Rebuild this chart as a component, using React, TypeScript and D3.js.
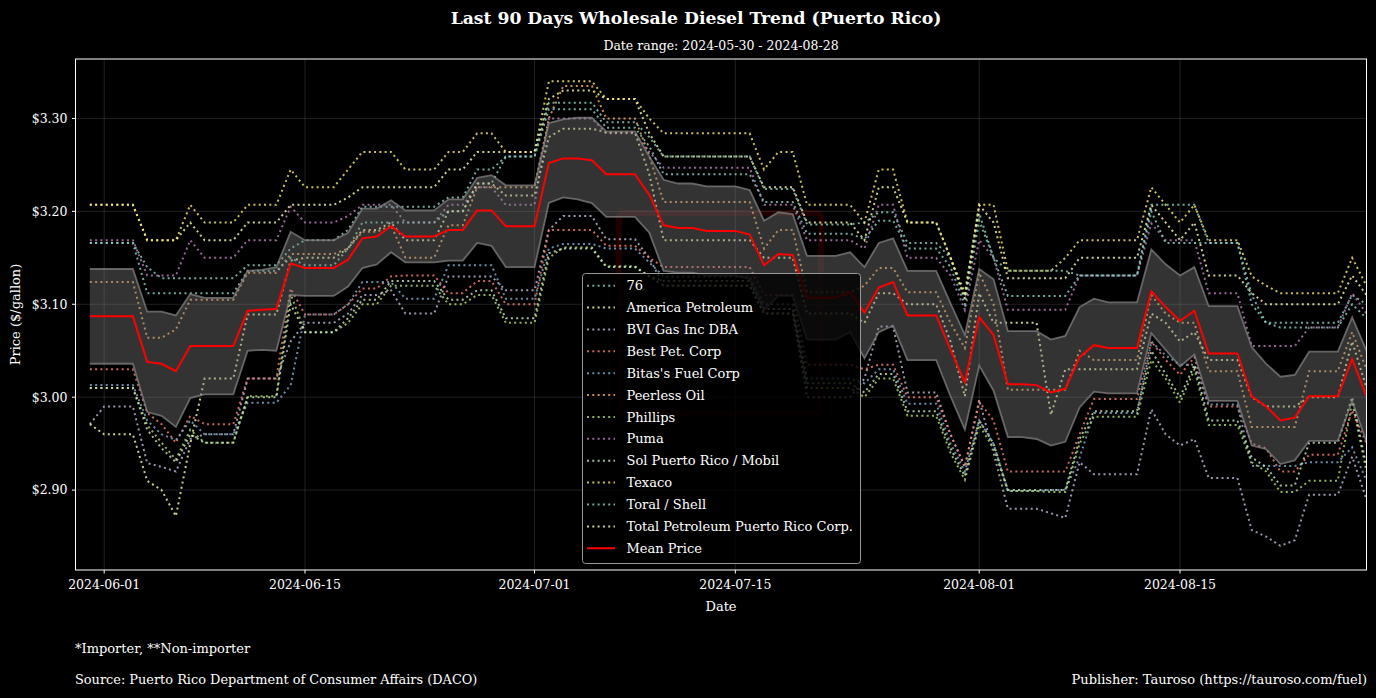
import React from "react";
import * as d3 from "d3";

const W = 1376;
const H = 698;

const nDays = 90;
const dates: Date[] = d3.range(nDays).map((i) => new Date(Date.UTC(2024, 4, 31 + i)));

const seriesNames = [
  "76",
  "America Petroleum",
  "BVI Gas Inc DBA",
  "Best Pet. Corp",
  "Bitas's Fuel Corp",
  "Peerless Oil",
  "Phillips",
  "Puma",
  "Sol Puerto Rico / Mobil",
  "Texaco",
  "Toral / Shell",
  "Total Petroleum Puerto Rico Corp.",
];

const seriesColors = [
  "#8dd3c7", "#feffb3", "#bfbbd9", "#fa8174", "#81b1d2", "#fdb462",
  "#b3de69", "#bc82bd", "#ccebc4", "#ffed6f", "#8dd3c7", "#feffb3",
];

const s76 = [
  3.166,3.166,3.166,3.166,3.140,3.128,3.128,3.128,3.128,3.128,
  3.128,3.142,3.142,3.142,3.160,3.169,3.169,3.169,3.180,3.205,
  3.205,3.205,3.205,3.205,3.205,3.215,3.215,3.245,3.245,3.259,
  3.259,3.259,3.317,3.317,3.317,3.317,3.296,3.296,3.296,3.280,
  3.259,3.259,3.259,3.259,3.259,3.259,3.259,3.224,3.224,3.224,
  3.186,3.186,3.186,3.186,3.188,3.199,3.199,3.166,3.166,3.166,
  3.150,3.106,3.198,3.150,3.136,3.136,3.136,3.136,3.136,3.131,
  3.131,3.131,3.131,3.131,3.207,3.207,3.207,3.207,3.166,3.166,
  3.166,3.110,3.080,3.080,3.080,3.080,3.080,3.080,3.110,3.100,
];
const americaPetroleum = [
  3.207,3.207,3.207,3.207,3.169,3.169,3.169,3.188,3.169,3.169,
  3.169,3.188,3.188,3.188,3.207,3.207,3.207,3.207,3.215,3.226,
  3.226,3.226,3.226,3.226,3.226,3.245,3.245,3.264,3.264,3.264,
  3.264,3.264,3.321,3.330,3.330,3.330,3.321,3.321,3.321,3.284,
  3.259,3.259,3.259,3.259,3.259,3.259,3.259,3.226,3.226,3.226,
  3.188,3.188,3.188,3.188,3.169,3.226,3.226,3.188,3.188,3.188,
  3.150,3.112,3.207,3.188,3.128,3.128,3.128,3.128,3.128,3.150,
  3.150,3.150,3.150,3.150,3.207,3.188,3.169,3.188,3.131,3.131,
  3.131,3.112,3.100,3.100,3.100,3.100,3.100,3.100,3.131,3.110,
];
const bviGas = [
  2.971,2.990,2.990,2.990,2.929,2.925,2.920,2.955,2.960,2.960,
  2.960,3.020,3.020,3.020,3.060,3.080,3.080,3.080,3.090,3.110,
  3.110,3.115,3.090,3.090,3.090,3.130,3.130,3.130,3.130,3.115,
  3.115,3.115,3.180,3.195,3.195,3.195,3.170,3.170,3.170,3.150,
  3.120,3.120,3.120,3.120,3.120,3.120,3.120,3.090,3.090,3.090,
  3.000,3.000,3.000,3.000,3.020,3.076,3.076,3.005,3.005,3.005,
  2.960,2.925,2.997,2.940,2.880,2.880,2.880,2.875,2.870,2.930,
  2.917,2.917,2.917,2.917,2.987,2.960,2.948,2.955,2.913,2.913,
  2.913,2.857,2.850,2.840,2.846,2.895,2.895,2.895,2.936,2.890,
];
const bestPet = [
  3.030,3.030,3.030,3.030,2.983,2.971,2.951,2.980,2.971,2.971,
  2.971,3.020,3.020,3.020,3.117,3.089,3.089,3.089,3.100,3.117,
  3.117,3.130,3.131,3.131,3.131,3.112,3.112,3.125,3.125,3.100,
  3.100,3.100,3.180,3.180,3.180,3.180,3.163,3.163,3.163,3.150,
  3.140,3.140,3.140,3.140,3.140,3.140,3.140,3.110,3.110,3.110,
  3.035,3.035,3.035,3.035,3.030,3.035,3.035,3.000,3.000,3.000,
  2.960,2.925,2.995,2.975,2.920,2.920,2.920,2.920,2.920,2.960,
  2.998,2.998,2.998,2.998,3.060,3.040,3.024,3.043,2.990,2.990,
  2.990,2.950,2.945,2.920,2.920,2.938,2.938,2.938,2.986,2.950,
];
const bitasFuel = [
  3.013,3.013,3.013,3.013,2.975,2.960,2.954,2.975,2.960,2.960,
  2.960,2.994,2.994,2.994,3.013,3.089,3.089,3.089,3.100,3.124,
  3.124,3.124,3.106,3.106,3.106,3.142,3.142,3.142,3.142,3.106,
  3.106,3.106,3.160,3.165,3.165,3.165,3.160,3.160,3.160,3.145,
  3.130,3.130,3.130,3.130,3.130,3.130,3.130,3.100,3.100,3.100,
  3.020,3.020,3.020,3.020,3.015,3.030,3.030,2.993,2.993,2.993,
  2.950,2.920,2.975,2.950,2.899,2.899,2.899,2.900,2.900,2.935,
  2.983,2.983,2.983,2.983,3.060,3.045,3.035,3.035,2.992,2.992,
  2.992,2.926,2.926,2.926,2.926,2.930,2.930,2.930,2.946,2.910,
];
const peerlessOil = [
  3.124,3.124,3.124,3.124,3.064,3.064,3.073,3.105,3.105,3.105,
  3.105,3.134,3.134,3.134,3.154,3.154,3.154,3.154,3.160,3.178,
  3.178,3.185,3.150,3.150,3.150,3.185,3.185,3.226,3.226,3.226,
  3.226,3.226,3.300,3.335,3.335,3.335,3.300,3.300,3.300,3.260,
  3.210,3.210,3.210,3.210,3.210,3.210,3.210,3.160,3.180,3.180,
  3.113,3.113,3.113,3.113,3.120,3.139,3.139,3.113,3.113,3.113,
  3.080,3.053,3.134,3.100,3.008,3.008,3.008,3.008,3.008,3.050,
  3.040,3.040,3.040,3.040,3.110,3.090,3.080,3.080,3.028,3.028,
  3.028,2.968,2.968,2.968,2.968,3.028,3.028,3.028,3.070,3.030,
];
const phillips = [
  3.010,3.010,3.010,3.010,2.970,2.951,2.933,2.965,2.951,2.951,
  2.951,3.001,3.001,3.001,3.111,3.070,3.070,3.070,3.080,3.100,
  3.100,3.120,3.120,3.120,3.120,3.100,3.100,3.110,3.110,3.080,
  3.080,3.080,3.150,3.161,3.161,3.161,3.141,3.141,3.141,3.130,
  3.120,3.120,3.120,3.120,3.120,3.120,3.120,3.090,3.090,3.090,
  3.010,3.010,3.010,3.010,3.000,3.020,3.020,2.980,2.980,2.980,
  2.940,2.911,2.970,2.945,2.899,2.899,2.899,2.898,2.898,2.950,
  2.979,2.979,2.979,2.979,3.040,3.020,2.994,3.030,2.970,2.970,
  2.970,2.930,2.920,2.898,2.898,2.910,2.910,2.910,2.995,2.920,
];
const puma = [
  3.169,3.169,3.169,3.169,3.131,3.131,3.131,3.169,3.150,3.150,
  3.150,3.169,3.169,3.169,3.205,3.188,3.188,3.188,3.195,3.207,
  3.207,3.207,3.188,3.188,3.188,3.207,3.207,3.226,3.226,3.207,
  3.207,3.207,3.300,3.300,3.300,3.300,3.284,3.284,3.284,3.264,
  3.247,3.247,3.247,3.247,3.247,3.247,3.247,3.207,3.207,3.207,
  3.169,3.169,3.169,3.169,3.160,3.207,3.207,3.150,3.150,3.150,
  3.131,3.094,3.169,3.150,3.094,3.094,3.094,3.094,3.094,3.131,
  3.131,3.131,3.131,3.131,3.187,3.169,3.169,3.169,3.112,3.112,
  3.112,3.055,3.055,3.055,3.055,3.075,3.075,3.075,3.112,3.090,
];
const solMobil = [
  3.010,3.010,3.010,3.010,2.965,2.945,2.930,2.960,2.951,2.951,
  2.951,3.000,3.000,3.000,3.100,3.070,3.070,3.070,3.085,3.105,
  3.105,3.125,3.125,3.125,3.125,3.105,3.105,3.115,3.115,3.085,
  3.085,3.085,3.155,3.160,3.160,3.160,3.140,3.140,3.140,3.130,
  3.125,3.125,3.125,3.125,3.125,3.125,3.125,3.095,3.095,3.095,
  3.015,3.015,3.015,3.015,3.005,3.025,3.025,2.985,2.985,2.985,
  2.945,2.915,2.975,2.950,2.900,2.900,2.900,2.900,2.900,2.955,
  2.985,2.985,2.985,2.985,3.050,3.025,3.000,3.035,2.975,2.975,
  2.975,2.935,2.925,2.905,2.905,2.951,2.951,2.951,3.000,2.925,
];
const texaco = [
  3.207,3.207,3.207,3.207,3.169,3.169,3.169,3.207,3.188,3.188,
  3.188,3.207,3.207,3.207,3.245,3.226,3.226,3.226,3.245,3.264,
  3.264,3.264,3.245,3.245,3.245,3.264,3.264,3.284,3.284,3.264,
  3.264,3.264,3.340,3.340,3.340,3.340,3.321,3.321,3.321,3.300,
  3.284,3.284,3.284,3.284,3.284,3.284,3.284,3.245,3.264,3.264,
  3.207,3.207,3.207,3.207,3.188,3.245,3.245,3.188,3.188,3.188,
  3.150,3.106,3.207,3.207,3.136,3.136,3.136,3.136,3.150,3.169,
  3.169,3.169,3.169,3.169,3.226,3.207,3.188,3.207,3.169,3.169,
  3.169,3.130,3.120,3.112,3.112,3.112,3.112,3.112,3.150,3.120,
];
const toralShell = [
  3.166,3.166,3.166,3.166,3.112,3.112,3.112,3.112,3.112,3.112,
  3.112,3.136,3.136,3.136,3.150,3.142,3.142,3.142,3.160,3.188,
  3.188,3.188,3.188,3.188,3.188,3.200,3.200,3.230,3.230,3.259,
  3.259,3.259,3.310,3.310,3.310,3.310,3.290,3.290,3.290,3.270,
  3.240,3.240,3.240,3.240,3.240,3.240,3.240,3.210,3.210,3.210,
  3.176,3.176,3.176,3.176,3.170,3.190,3.190,3.160,3.160,3.160,
  3.140,3.100,3.190,3.150,3.109,3.109,3.109,3.109,3.109,3.131,
  3.131,3.131,3.131,3.131,3.200,3.166,3.166,3.166,3.166,3.166,
  3.166,3.100,3.080,3.075,3.075,3.075,3.075,3.075,3.100,3.085,
];
const totalPetroleum = [
  2.971,2.960,2.960,2.960,2.910,2.900,2.872,2.950,3.020,3.020,
  3.020,3.089,3.089,3.089,3.147,3.150,3.150,3.150,3.160,3.180,
  3.180,3.188,3.169,3.169,3.169,3.200,3.200,3.230,3.230,3.217,
  3.217,3.217,3.280,3.289,3.289,3.289,3.285,3.285,3.285,3.240,
  3.169,3.169,3.169,3.169,3.169,3.169,3.169,3.150,3.150,3.150,
  3.090,3.090,3.090,3.090,3.080,3.112,3.112,3.100,3.100,3.100,
  3.060,3.001,3.112,3.080,3.080,3.080,3.080,2.981,3.030,3.030,
  3.030,3.030,3.030,3.030,3.090,3.080,3.060,3.070,3.040,3.040,
  3.040,3.000,2.990,2.990,2.990,3.000,3.000,3.000,3.060,3.010,
];

const meanPrice = [
  3.087,3.087,3.087,3.087,3.038,3.036,3.028,3.055,3.055,3.055,
  3.055,3.093,3.094,3.095,3.144,3.139,3.139,3.139,3.148,3.171,
  3.173,3.184,3.173,3.173,3.173,3.180,3.180,3.201,3.201,3.184,
  3.184,3.184,3.252,3.257,3.257,3.255,3.240,3.240,3.240,3.218,
  3.185,3.182,3.182,3.179,3.179,3.179,3.175,3.142,3.154,3.153,
  3.107,3.107,3.107,3.113,3.091,3.118,3.124,3.088,3.088,3.088,
  3.051,3.016,3.086,3.067,3.014,3.014,3.013,3.005,3.009,3.043,
  3.056,3.053,3.053,3.053,3.114,3.097,3.082,3.093,3.047,3.047,
  3.047,3.001,2.990,2.975,2.978,3.001,3.001,3.001,3.041,3.001,
];
const stdPrice = [
  0.051,0.051,0.051,0.051,0.054,0.056,0.060,0.056,0.052,0.052,
  0.052,0.043,0.043,0.045,0.034,0.030,0.030,0.030,0.029,0.032,
  0.030,0.028,0.028,0.028,0.028,0.033,0.033,0.035,0.038,0.044,
  0.044,0.044,0.043,0.042,0.044,0.046,0.046,0.046,0.046,0.041,
  0.049,0.048,0.048,0.048,0.048,0.048,0.048,0.048,0.045,0.044,
  0.045,0.045,0.045,0.043,0.049,0.048,0.047,0.048,0.048,0.048,
  0.050,0.051,0.052,0.060,0.057,0.057,0.058,0.057,0.057,0.054,
  0.050,0.049,0.049,0.049,0.045,0.046,0.049,0.047,0.051,0.051,
  0.051,0.053,0.046,0.047,0.046,0.048,0.048,0.048,0.045,0.049,
];

const seriesValues = [
  s76, americaPetroleum, bviGas, bestPet, bitasFuel, peerlessOil,
  phillips, puma, solMobil, texaco, toralShell, totalPetroleum,
];

const xTickLabels = ["2024-06-01", "2024-06-15", "2024-07-01", "2024-07-15", "2024-08-01", "2024-08-15"];
const yTickValues = [2.9, 3.0, 3.1, 3.2, 3.3];

const FONT = "'DejaVu Serif', serif";
const DOTS = "2 3.3";

export default function App() {
  const left = 75.5, right = 1366.5, top = 59, bottom = 570;
  const x = d3.scaleUtc()
    .domain([new Date(Date.UTC(2024, 4, 30)), new Date(Date.UTC(2024, 7, 28))])
    .range([left, right]);
  const y = d3.scaleLinear().domain([2.814, 3.364]).range([bottom, top]);

  const line = d3.line<number>().x((_, i) => x(dates[i])).y((v) => y(v));
  const upper = meanPrice.map((m, i) => m + stdPrice[i]);
  const lower = meanPrice.map((m, i) => m - stdPrice[i]);
  const area = d3.area<number>()
    .x((_, i) => x(dates[i]))
    .y0((_, i) => y(lower[i]))
    .y1((_, i) => y(upper[i]));

  const xTicks = xTickLabels.map((s) => ({ s, d: new Date(s + "T00:00:00Z") }));

  const legX = 582.5, legY = 273.5, legW = 278, legH = 290;
  const rowH = 21.88;
  const legendItems = [...seriesNames.map((n, i) => ({ n, c: seriesColors[i], mean: false })), { n: "Mean Price", c: "#ff0000", mean: true }];

  return (
    <svg width={W} height={H} style={{ position: "absolute", left: 0, top: 0, display: "block", background: "#000" }} fontFamily={FONT}>
      <rect x={0} y={0} width={W} height={H} fill="#000" />
      <defs>
        <clipPath id="plotclip">
          <rect x={left} y={top} width={right - left} height={bottom - top} />
        </clipPath>
      </defs>
      {yTickValues.map((v) => (
        <line key={"gy" + v} x1={left} x2={right} y1={y(v)} y2={y(v)} stroke="#ffffff" strokeOpacity={0.16} strokeWidth={0.8} />
      ))}
      {xTicks.map((t) => (
        <line key={"gx" + t.s} x1={x(t.d)} x2={x(t.d)} y1={top} y2={bottom} stroke="#ffffff" strokeOpacity={0.16} strokeWidth={0.8} />
      ))}
      <rect x={619} y={213} width={202} height={200} rx={4} fill="none" stroke="#ff0000" strokeOpacity={0.12} strokeWidth={6} />
      <g clipPath="url(#plotclip)">
        {seriesValues.map((vals, i) => (
          <path key={seriesNames[i]} d={line(vals) || ""} fill="none" stroke={seriesColors[i]} strokeWidth={2} strokeDasharray={DOTS} strokeOpacity={0.8} />
        ))}
        <path d={area(meanPrice) || ""} fill="#808080" fillOpacity={0.4} stroke="none" />
        <path d={line(upper) || ""} fill="none" stroke="#808080" strokeOpacity={0.75} strokeWidth={1.8} />
        <path d={line(lower) || ""} fill="none" stroke="#808080" strokeOpacity={0.75} strokeWidth={1.8} />
        <path d={line(meanPrice) || ""} fill="none" stroke="#ff0000" strokeWidth={2} />
      </g>
      <rect x={left} y={top} width={right - left} height={bottom - top} fill="none" stroke="#ffffff" strokeWidth={1} />
      {yTickValues.map((v) => (
        <g key={"yt" + v}>
          <line x1={left - 3.5} x2={left} y1={y(v)} y2={y(v)} stroke="#fff" strokeWidth={1} />
          <text x={left - 8} y={y(v)} dy="0.35em" textAnchor="end" fill="#fff" fontSize={12.5}>{"$" + v.toFixed(2)}</text>
        </g>
      ))}
      {xTicks.map((t) => (
        <g key={"xt" + t.s}>
          <line x1={x(t.d)} x2={x(t.d)} y1={bottom} y2={bottom + 3.5} stroke="#fff" strokeWidth={1} />
          <text x={x(t.d)} y={bottom + 19} textAnchor="middle" fill="#fff" fontSize={12.5}>{t.s}</text>
        </g>
      ))}
      <g>
        <rect x={legX} y={legY} width={legW} height={legH} rx={3} fill="#000" fillOpacity={0.8} stroke="#999" strokeWidth={1} />
        {legendItems.map((it, i) => {
          const cy = 285.7 + i * rowH;
          return (
            <g key={"lg" + it.n}>
              <line x1={587} x2={615} y1={cy} y2={cy} stroke={it.c} strokeWidth={2} strokeDasharray={it.mean ? undefined : DOTS} strokeOpacity={it.mean ? 1 : 0.8} />
              <text x={626.5} y={cy} dy="0.35em" fill="#fff" fontSize={13}>{it.n}</text>
            </g>
          );
        })}
      </g>
      <text x={696} y={24} textAnchor="middle" fill="#fff" fontSize={17.2} fontWeight="bold">Last 90 Days Wholesale Diesel Trend (Puerto Rico)</text>
      <text x={(left + right) / 2} y={50} textAnchor="middle" fill="#fff" fontSize={12.5}>Date range: 2024-05-30 - 2024-08-28</text>
      <text x={(left + right) / 2} y={611} textAnchor="middle" fill="#fff" fontSize={13}>Date</text>
      <text transform={`translate(20, ${(top + bottom) / 2}) rotate(-90)`} textAnchor="middle" fill="#fff" fontSize={13}>Price ($/gallon)</text>
      <text x={75} y={653} fill="#fff" fontSize={13}>*Importer, **Non-importer</text>
      <text x={75} y={684} fill="#fff" fontSize={12.9}>Source: Puerto Rico Department of Consumer Affairs (DACO)</text>
      <text x={1367} y={684} textAnchor="end" fill="#fff" fontSize={13}>Publisher: Tauroso (https://tauroso.com/fuel)</text>
    </svg>
  );
}
